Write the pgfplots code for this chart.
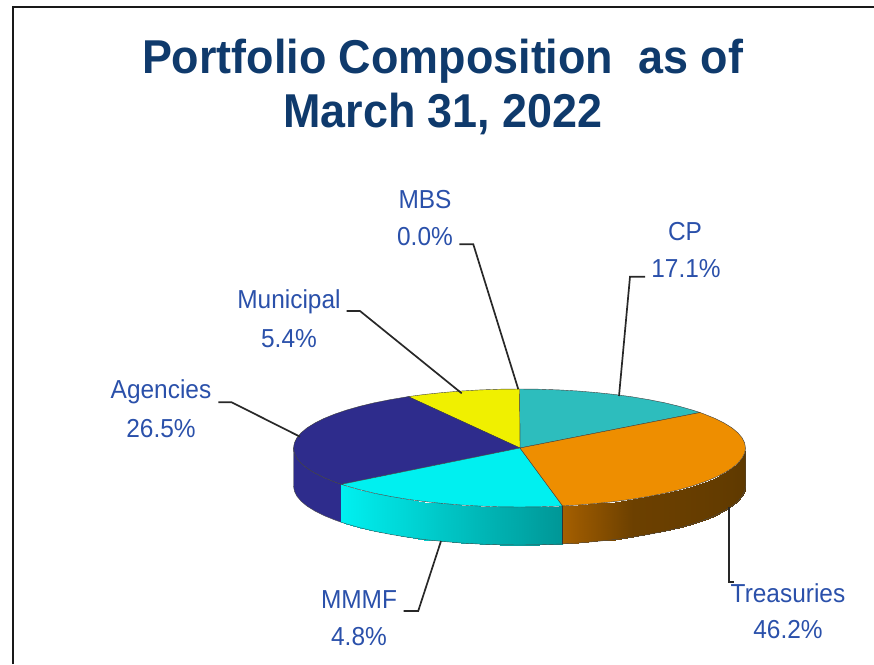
\documentclass[border=0pt]{standalone}
\usepackage{pgfplots}
\pgfplotsset{compat=1.18}
\usepackage{fontspec}
\setmainfont{Liberation Sans}
\definecolor{titleblue}{RGB}{15,58,108}
\definecolor{lblblue}{RGB}{42,80,170}
\definecolor{cteal}{RGB}{45,189,189}
\definecolor{corange}{RGB}{238,142,0}
\definecolor{ccyan}{RGB}{0,240,240}
\definecolor{cnavy}{RGB}{46,44,140}
\definecolor{cyellow}{RGB}{240,240,0}
\definecolor{leader}{RGB}{40,40,40}
\begin{document}
\begin{tikzpicture}
\begin{axis}[
  x=1pt,y=1pt,
  xmin=0,xmax=874,ymin=0,ymax=664,
  y dir=reverse,
  hide axis,
  no markers,
  clip=true,
  point meta min=0,point meta max=201,
  colormap={side}{rgb255(0)=(0,240,240) rgb255(100)=(0,150,150) rgb255(101)=(165,95,0) rgb255(140)=(108,64,0) rgb255(201)=(92,56,0)},
]
% page extent
\addplot[draw=none] coordinates {(0,0)(874,664)};
% frame
\addplot[black!90,line width=2pt] coordinates {(13,664) (13,7) (874,7)};
% navy side
\addplot[fill=cnavy,draw=black!70,line width=0.4pt] coordinates {
(293.5,448)(294.4,453.1)(296.9,458.2)(301.2,463.3)(307.1,468.2)(314.7,472.9)(323.8,477.5)(334.4,481.8)(341.4,484.3)
(341.4,522.3)(334.4,519.8)(323.8,515.5)(314.7,510.9)(307.1,506.2)(301.2,501.3)(296.9,496.2)(294.4,491.1)(293.5,486)
} -- cycle;
% cyan side
\addplot[surf,shader=interp,mesh/rows=2,mesh/ordering=x varies,point meta=explicit] table[x=x,y=y,meta=c] {
x y c
341.4 484.3 0
346.4 485.9 2
359.7 489.7 8
374.2 493.2 15
389.9 496.3 22
406.5 499.1 29
424 501.5 37
442.2 503.4 46
461 505 54
480.3 506.1 63
499.8 506.8 72
519.5 507 80
539.2 506.8 89
558.7 506.1 98
562.6 505.9 100
341.4 522.3 0
346.4 523.9 2
359.7 527.7 8
374.2 531.2 15
389.9 534.3 22
406.5 537.1 29
424 539.5 37
442.2 541.4 46
461 543 54
480.3 544.1 63
499.8 544.8 72
519.5 545 80
539.2 544.8 89
558.7 544.1 98
562.6 543.9 100
};
% brown side
\addplot[surf,shader=interp,mesh/rows=2,mesh/ordering=x varies,point meta=explicit] table[x=x,y=y,meta=c] {
x y c
562.6 505.9 101
578 505 110
596.8 503.4 120
615 501.5 130
632.5 499.1 140
649.1 496.3 145
664.8 493.2 150
679.3 489.7 155
692.6 485.9 160
704.6 481.8 165
715.2 477.5 170
724.3 472.9 175
731.9 468.2 180
737.8 463.3 185
742.1 458.2 190
744.6 453.1 195
745.5 448 200
562.6 543.9 101
578 543 110
596.8 541.4 120
615 539.5 130
632.5 537.1 140
649.1 534.3 145
664.8 531.2 150
679.3 527.7 155
692.6 523.9 160
704.6 519.8 165
715.2 515.5 170
724.3 510.9 175
731.9 506.2 180
737.8 501.3 185
742.1 496.2 190
744.6 491.1 195
745.5 486 200
};
% side outlines
\addplot[black!70,line width=0.4pt] coordinates {
(341.4,522.3)(346.4,523.9)(359.7,527.7)(374.2,531.2)(389.9,534.3)(406.5,537.1)(424,539.5)(442.2,541.4)(461,543)(480.3,544.1)(499.8,544.8)(519.5,545)(539.2,544.8)(558.7,544.1)(578,543)(596.8,541.4)(615,539.5)(632.5,537.1)(649.1,534.3)(664.8,531.2)(679.3,527.7)(692.6,523.9)(704.6,519.8)(715.2,515.5)(724.3,510.9)(731.9,506.2)(737.8,501.3)(742.1,496.2)(744.6,491.1)(745.5,486)(745.5,448)};
\addplot[black!80,line width=0.5pt] coordinates {(562.6,505.9)(562.6,543.9)};
% CP slice
\addplot[fill=cteal,draw=black!75,line width=0.4pt] coordinates {
(520,448)(700,412.5)(692.6,410.1)(679.3,406.3)(664.8,402.8)(649.1,399.7)(632.5,396.9)(615,394.5)(596.8,392.6)(578,391)(558.7,389.9)(539.2,389.2)(519.5,389)
} -- cycle;
% Municipal slice
\addplot[fill=cyellow,draw=black!75,line width=0.4pt] coordinates {
(520,448)(519.5,389)(499.8,389.2)(480.3,389.9)(461,391)(442.2,392.6)(424,394.5)(408.2,396.6)
} -- cycle;
% Agencies slice
\addplot[fill=cnavy,draw=black!75,line width=0.4pt] coordinates {
(520,448)(408.2,396.6)(389.9,399.7)(374.2,402.8)(359.7,406.3)(346.4,410.1)(334.4,414.2)(323.8,418.5)(314.7,423.1)(307.1,427.8)(301.2,432.7)(296.9,437.8)(294.4,442.9)(293.5,448)(294.4,453.1)(296.9,458.2)(301.2,463.3)(307.1,468.2)(314.7,472.9)(323.8,477.5)(334.4,481.8)(341.4,484.3)
} -- cycle;
% MMMF slice
\addplot[fill=ccyan,draw=black!75,line width=0.4pt] coordinates {
(520,448)(341.4,484.3)(346.4,485.9)(359.7,489.7)(374.2,493.2)(389.9,496.3)(406.5,499.1)(424,501.5)(442.2,503.4)(461,505)(480.3,506.1)(499.8,506.8)(519.5,507)(539.2,506.8)(558.7,506.1)(562.6,505.9)
} -- cycle;
% Treasuries slice
\addplot[fill=corange,draw=black!75,line width=0.4pt] coordinates {
(520,448)(562.6,505.9)(578,505)(596.8,503.4)(615,501.5)(632.5,499.1)(649.1,496.3)(664.8,493.2)(679.3,489.7)(692.6,485.9)(704.6,481.8)(715.2,477.5)(724.3,472.9)(731.9,468.2)(737.8,463.3)(742.1,458.2)(744.6,453.1)(745.5,448)(744.6,442.9)(742.1,437.8)(737.8,432.7)(731.9,427.8)(724.3,423.1)(715.2,418.5)(704.6,414.2)(700,412.5)
} -- cycle;
% leaders
\addplot[leader,line width=1.7pt] coordinates {(459.3,244.3)(473.3,244.3)(518.3,389.3)};
\addplot[leader,line width=1.7pt] coordinates {(346.7,311)(360,311)(461.7,393.3)};
\addplot[leader,line width=1.7pt] coordinates {(218.3,402.3)(231.7,402.3)(300,436.7)};
\addplot[leader,line width=1.7pt] coordinates {(645,276.7)(630,276.7)(619,396)};
\addplot[leader,line width=1.7pt] coordinates {(729,507)(729,582)(734,582)};
\addplot[leader,line width=1.7pt] coordinates {(403.6,611)(418.2,611)(441,541)};
% titles
\newcommand{\ttl}[2]{\node[text=titleblue,font=\fontsize{47.5}{47.5}\selectfont\bfseries] at (axis cs:#1) {\scalebox{0.945}[1]{#2}};}
\ttl{442.5,61}{Portfolio Composition\ \ as of}
\ttl{443,114}{March 31, 2022}
% labels
\newcommand{\lbl}[2]{\node[text=lblblue,font=\fontsize{26}{26}\selectfont] at (axis cs:#1) {\scalebox{0.94}[1]{#2}};}
\lbl{425,200}{MBS}
\lbl{425,237}{0.0\%}
\lbl{685,232}{CP}
\lbl{686,269}{17.1\%}
\lbl{289,302}{Municipal}
\lbl{289,339}{5.4\%}
\lbl{161,392}{Agencies}
\lbl{161,429}{26.5\%}
\lbl{359,600}{MMMF}
\lbl{359,637}{4.8\%}
\lbl{788,593}{Treasuries}
\lbl{788,630}{46.2\%}
\end{axis}
\end{tikzpicture}
\end{document}
